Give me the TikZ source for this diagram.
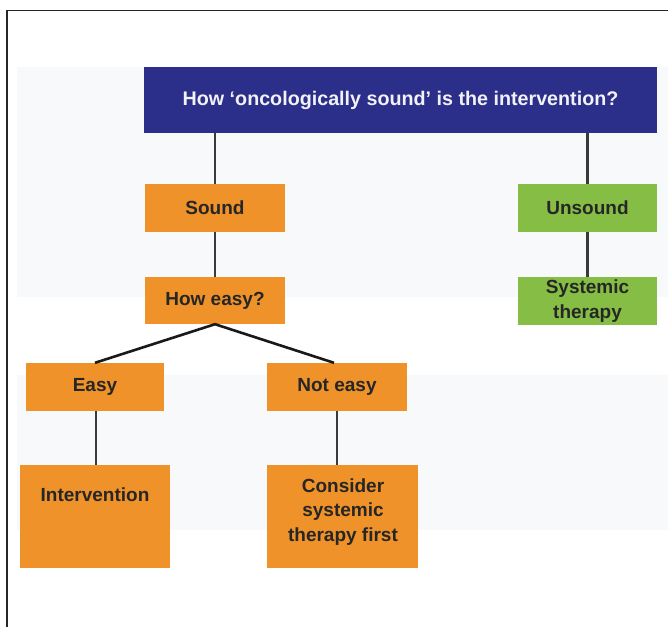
\documentclass[tikz,border=0pt]{standalone}
\usepackage{fontspec}
\setmainfont{Liberation Sans}
\definecolor{boxorange}{HTML}{EF9229}
\definecolor{boxgreen}{HTML}{86BE45}
\definecolor{boxblue}{HTML}{2B2F8A}
\definecolor{bandgrey}{HTML}{F8F9FA}
\definecolor{txtdark}{HTML}{262626}
\definecolor{titletxt}{HTML}{F2F2F6}
\definecolor{linegrey}{HTML}{3A3A3A}
\begin{document}
\begin{tikzpicture}[x=1pt,y=-1pt,
  basebox/.style={inner sep=0pt, text=txtdark, align=center,
    font=\bfseries\fontsize{19}{25}\selectfont},
  obox/.style={basebox, fill=boxorange},
  gbox/.style={basebox, fill=boxgreen},
  titlebox/.style={inner sep=0pt, fill=boxblue, text=titletxt,
    font=\bfseries\fontsize{19.7}{22}\selectfont},
  txtonly/.style={inner sep=0pt, text=txtdark, align=center,
    font=\bfseries\fontsize{19}{24.5}\selectfont},
  conn/.style={draw=linegrey, line width=2.2pt},
  diag/.style={draw=black!90, line width=2.6pt},
  frameline/.style={draw=black!85, line width=1.5pt}]
\useasboundingbox (0,0) rectangle (668,627);
% background bands
\fill[bandgrey] (17,67) rectangle (668,297);
\fill[bandgrey] (17,375) rectangle (668,530);
% frame
\draw[frameline] (7,627) -- (7,10.5) -- (668,10.5);
% nodes
\node[titlebox, minimum width=513pt, minimum height=66pt] (title) at (400.5,100) {How ‘oncologically sound’ is the intervention?};
\node[obox, minimum width=140pt, minimum height=48pt] (sound) at (215,208) {Sound};
\node[obox, minimum width=140pt, minimum height=47pt] (howeasy) at (215,300.5) {How easy?};
\node[gbox, minimum width=139pt, minimum height=48pt] (unsound) at (587.5,208) {Unsound};
\node[gbox, minimum width=139pt, minimum height=48pt] (systemic) at (587.5,301) {Systemic\\therapy};
\node[obox, minimum width=138pt, minimum height=48pt] (easy) at (95,387) {Easy};
\node[obox, minimum width=140pt, minimum height=48pt] (noteasy) at (337,387) {Not easy};
\node[obox, minimum width=150pt, minimum height=103pt] (interv) at (95,516.5) {};
\node[txtonly] (intervtxt) at (95,495) {Intervention};
\node[obox, minimum width=151pt, minimum height=103pt] (consider) at (342.5,516.5) {};
\node[txtonly] (considertxt) at (343,512) {Consider\\systemic\\therapy first};
% connectors
\draw[conn] (sound.north) -- (sound.north |- title.south);
\draw[conn] (unsound.north) -- (unsound.north |- title.south);
\draw[conn] (sound.south) -- (howeasy.north);
\draw[conn] (unsound.south) -- (systemic.north);
\draw[diag] (easy.north) -- (howeasy.south) -- ([xshift=-3pt]noteasy.north);
\draw[conn] ([xshift=1pt]easy.south) -- ([xshift=1pt]easy.south |- interv.north);
\draw[conn] (noteasy.south) -- (noteasy.south |- consider.north);
\end{tikzpicture}
\end{document}
